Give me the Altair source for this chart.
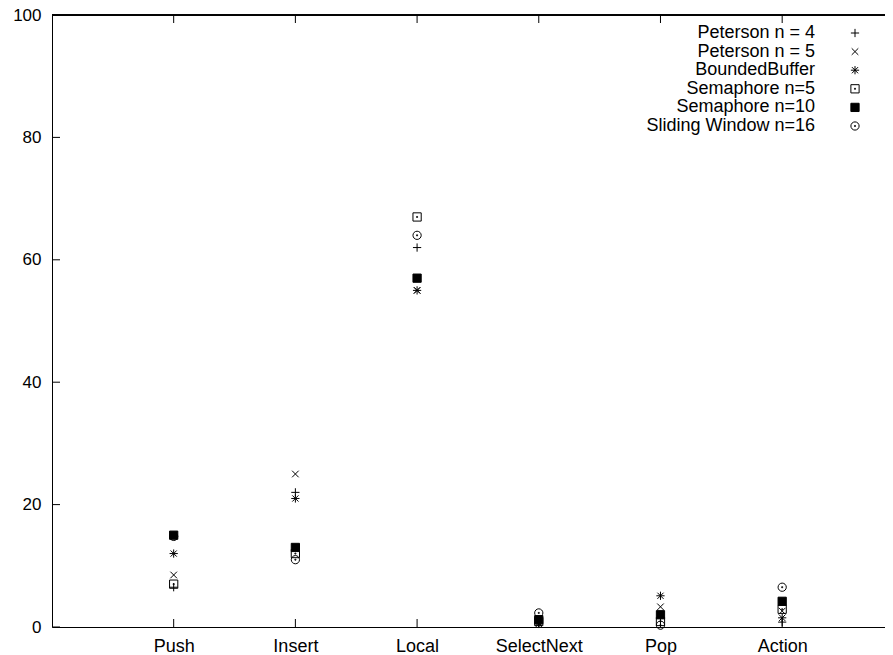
import altair as alt
import pandas as pd

categories = ["Push", "Insert", "Local", "SelectNext", "Pop", "Action"]
series = ["Peterson n = 4", "Peterson n = 5", "BoundedBuffer",
          "Semaphore n=5", "Semaphore n=10", "Sliding Window n=16"]
peterson4 = [6.5, 22, 62, 0.5, 1.5, 0.8]
peterson5 = [8.5, 25, 55, 0.5, 3.3, 2.6]
bounded = [12, 21, 55, 0.7, 5.1, 1.5]
sem5 = [7, 12, 67, 0.9, 0.9, 2.9]
sem10 = [15, 13, 57, 1.2, 2.0, 4.2]
sliding = [14.8, 11, 64, 2.3, 0.3, 6.5]
y_ticks = [0, 20, 40, 60, 80, 100]

values = [peterson4, peterson5, bounded, sem5, sem10, sliding]

rows = []
for s, vals in zip(series, values):
    for c, v in zip(categories, vals):
        rows.append({"series": s, "cat": c, "value": v})
df = pd.DataFrame(rows)

shapes = [
    "M-1,0H1M0,-1V1",
    "M-0.8,-0.8L0.8,0.8M-0.8,0.8L0.8,-0.8",
    "M-1,0H1M0,-1V1M-0.75,-0.75L0.75,0.75M-0.75,0.75L0.75,-0.75",
    "M-1,-1H1V1H-1Z M-0.12,-0.12H0.12V0.12H-0.12Z",
    "M-1,-1H1V1H-1Z",
    "M1,0A1,1,0,1,1,-1,0A1,1,0,1,1,1,0Z M-0.12,-0.12H0.12V0.12H-0.12Z",
]
fills = ["transparent", "transparent", "transparent", "transparent", "black", "transparent"]

W, H = 833, 612
FONT = "Liberation Sans"
FS = 18

xscale = alt.Scale(type="point", domain=categories, padding=0.9224, align=0.542)
yscale = alt.Scale(domain=[0, 100], nice=False, zero=False)
shape_scale = alt.Scale(domain=series, range=shapes)
fill_scale = alt.Scale(domain=series, range=fills)

points = alt.Chart(df).mark_point(
    filled=True, stroke="black", strokeWidth=1, size=68, opacity=1
).encode(
    x=alt.X("cat:N", scale=xscale, sort=categories, title=None,
            axis=alt.Axis(ticks=False, labelAngle=0, labelAlign="center",
                          labelBaseline="top", labelPadding=10, labelFont=FONT,
                          labelFontSize=FS, labelColor="black", domainColor="black",
                          domainWidth=1, grid=False)),
    y=alt.Y("value:Q", scale=yscale, title=None,
            axis=alt.Axis(values=y_ticks, ticks=False, grid=False, labelPadding=11,
                          labelFont=FONT, labelFontSize=17, labelColor="black",
                          domainColor="black", domainWidth=1)),
    shape=alt.Shape("series:N", scale=shape_scale, legend=None),
    fill=alt.Fill("series:N", scale=fill_scale, legend=None),
)

ydf = pd.DataFrame({"value": y_ticks})
ytick_rules = alt.Chart(ydf).mark_rule(color="black", strokeWidth=1).encode(
    x=alt.value(0), x2=alt.value(8), y=alt.Y("value:Q", scale=yscale)
)

cdf = pd.DataFrame({"cat": categories})
xtick_bottom = alt.Chart(cdf).mark_rule(color="black", strokeWidth=1).encode(
    x=alt.X("cat:N", scale=xscale, sort=categories), y=alt.value(H), y2=alt.value(H - 8)
)
xtick_top = alt.Chart(cdf).mark_rule(color="black", strokeWidth=1).encode(
    x=alt.X("cat:N", scale=xscale, sort=categories), y=alt.value(0), y2=alt.value(8)
)
top_border = alt.Chart(cdf).mark_rule(color="black", strokeWidth=1).encode(
    x=alt.value(0), x2=alt.value(W), y=alt.value(0)
)

ldf = pd.DataFrame({"series": series, "ly": [18 + 18.6 * i for i in range(len(series))]})
leg_text = alt.Chart(ldf).mark_text(
    align="right", baseline="middle", font=FONT, fontSize=FS, color="black"
).encode(
    x=alt.value(763), y=alt.Y("ly:Q", scale=None, axis=None), text="series:N"
)
leg_pts = alt.Chart(ldf).mark_point(
    filled=True, stroke="black", strokeWidth=1, size=68, opacity=1
).encode(
    x=alt.value(803), y=alt.Y("ly:Q", scale=None, axis=None),
    shape=alt.Shape("series:N", scale=shape_scale, legend=None),
    fill=alt.Fill("series:N", scale=fill_scale, legend=None),
)

chart = alt.layer(
    top_border, ytick_rules, xtick_bottom, xtick_top, points, leg_text, leg_pts
).properties(
    width=W, height=H,
    autosize=alt.AutoSizeParams(type="none"),
    padding={"left": 44, "top": 7, "right": 0, "bottom": 34},
    background="white",
).configure_view(stroke=None)

chart.save("out.html", embed_options={"renderer": "svg", "actions": False})
